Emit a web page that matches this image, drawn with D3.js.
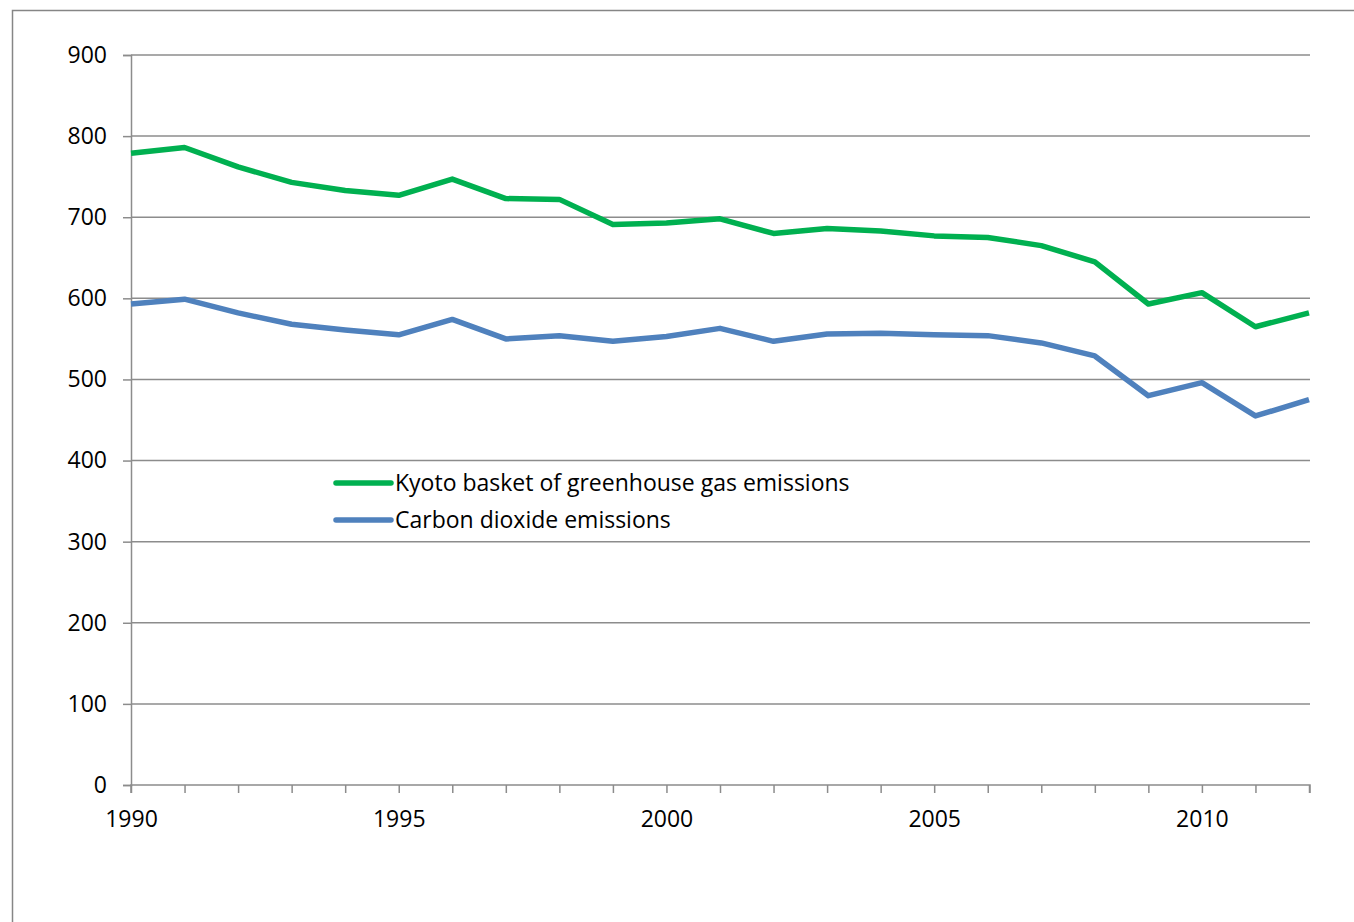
<!DOCTYPE html>
<html>
<head>
<meta charset="utf-8">
<script src="https://cdn.jsdelivr.net/npm/d3@7"></script>
<style>
  html, body { margin: 0; padding: 0; background: #fff; }
  svg { display: block; }
  text { font-family: "Open Sans", "Liberation Sans", sans-serif; fill: #000; }
</style>
</head>
<body>
<svg id="chart" width="1354" height="922"></svg>
<script>
// Annual emissions, 1990–2012 (million tonnes CO2 equivalent)
const years = d3.range(1990, 2013);
const kyotoBasket = [779, 786, 762, 743, 733, 727, 747, 723, 722, 691, 693, 698,
                     680, 686, 683, 677, 675, 665, 645, 593, 607, 565, 582];
const carbonDioxide = [593, 599, 582, 568, 561, 555, 574, 550, 554, 547, 553, 563,
                       547, 556, 557, 555, 554, 545, 529, 480, 496, 455, 475];
const seriesNames = ["Kyoto basket of greenhouse gas emissions", "Carbon dioxide emissions"];
const seriesColors = ["#00B050", "#4F81BD"];
const yTicks = [0, 100, 200, 300, 400, 500, 600, 700, 800, 900];
const xLabelYears = [1990, 1995, 2000, 2005, 2010];

const svg = d3.select("#chart");
const fontSize = 23;

// Outer chart frame (runs off the right and bottom edges)
svg.append("rect")
  .attr("x", 12.5).attr("y", 10.5)
  .attr("width", 1400).attr("height", 1000)
  .attr("fill", "none").attr("stroke", "#868686").attr("stroke-width", 1.5);

const plot = { left: 131, right: 1309, top: 55, bottom: 785 };

const x = d3.scaleLinear().domain([1990, 2012]).range([plot.left, plot.right]);
const y = d3.scaleLinear().domain([0, 900]).range([plot.bottom, plot.top]);

const gridColor = "#8c8c8c";

// Horizontal gridlines
svg.append("g")
  .selectAll("line")
  .data(yTicks.filter(d => d > 0))
  .join("line")
  .attr("x1", plot.left).attr("x2", plot.right + 1)
  .attr("y1", d => y(d)).attr("y2", d => y(d))
  .attr("stroke", gridColor).attr("stroke-width", 1.5);

// Y axis
const yAxis = d3.axisLeft(y).tickValues(yTicks).tickSize(8).tickPadding(16)
  .tickFormat(d3.format("d"));
const gy = svg.append("g").attr("transform", `translate(${plot.left},0)`).call(yAxis);
gy.select(".domain").attr("stroke", gridColor).attr("stroke-width", 1.5);
gy.selectAll(".tick line").attr("stroke", gridColor).attr("stroke-width", 1.5);
gy.selectAll(".tick text").attr("font-size", fontSize).attr("fill", "#000")
  .style("font-family", "'Open Sans', sans-serif");

// X axis: a tick every year, labels every five years
const xAxis = d3.axisBottom(x).tickValues(years).tickSize(8).tickPadding(18)
  .tickFormat(d => xLabelYears.includes(d) ? String(d) : "");
const gx = svg.append("g").attr("transform", `translate(0,${plot.bottom})`).call(xAxis);
gx.select(".domain").attr("stroke", gridColor).attr("stroke-width", 1.5)
  .attr("d", `M${plot.left},8V0H${plot.right + 1}V8`);
gx.selectAll(".tick line").attr("stroke", gridColor).attr("stroke-width", 1.5);
gx.selectAll(".tick text").attr("font-size", fontSize).attr("fill", "#000")
  .style("font-family", "'Open Sans', sans-serif");

// Series lines
const line = d3.line().x((d, i) => x(years[i])).y(d => y(d));
[kyotoBasket, carbonDioxide].forEach((vals, i) => {
  svg.append("path")
    .datum(vals)
    .attr("d", line)
    .attr("fill", "none")
    .attr("stroke", seriesColors[i])
    .attr("stroke-width", 5.5)
    .attr("stroke-linejoin", "round")
    .attr("stroke-linecap", "butt");
});

// Legend
const legend = svg.append("g").attr("transform", "translate(336,483)");
seriesNames.forEach((name, i) => {
  const row = legend.append("g").attr("transform", `translate(0,${i * 37})`);
  row.append("line")
    .attr("x1", 0).attr("x2", 55).attr("y1", 0).attr("y2", 0)
    .attr("stroke", seriesColors[i]).attr("stroke-width", 5.5)
    .attr("stroke-linecap", "round");
  row.append("text")
    .attr("x", 59).attr("y", 8)
    .attr("font-size", fontSize)
    .text(name);
});
</script>
</body>
</html>
